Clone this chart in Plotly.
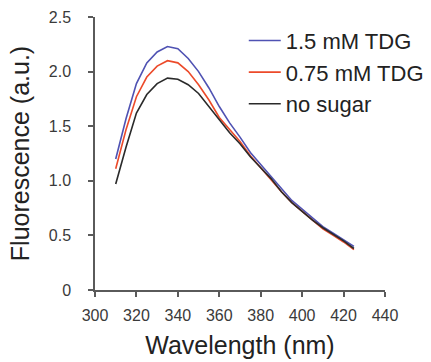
import plotly.graph_objects as go

wavelength = [310, 315, 320, 325, 330, 335, 340, 345, 350, 355, 360, 365,
              370, 375, 380, 385, 390, 395, 400, 405, 410, 415, 420, 425]
tdg_15 = [1.20, 1.57, 1.89, 2.08, 2.18, 2.23, 2.21, 2.12, 2.00, 1.85, 1.68, 1.53,
          1.40, 1.26, 1.15, 1.04, 0.92, 0.82, 0.74, 0.66, 0.58, 0.52, 0.46, 0.40]
tdg_075 = [1.11, 1.47, 1.77, 1.95, 2.05, 2.10, 2.08, 2.00, 1.88, 1.74, 1.58, 1.47,
           1.36, 1.23, 1.12, 1.02, 0.90, 0.80, 0.72, 0.64, 0.56, 0.50, 0.44, 0.37]
no_sugar = [0.97, 1.31, 1.62, 1.79, 1.89, 1.94, 1.93, 1.88, 1.80, 1.68, 1.55, 1.44,
            1.34, 1.22, 1.12, 1.02, 0.90, 0.80, 0.72, 0.64, 0.57, 0.51, 0.45, 0.38]

series_names = ["1.5 mM TDG", "0.75 mM TDG", "no sugar"]
series_colors = ["#4f52b3", "#ec4a2a", "#2a2a2a"]

x_ticks = [300, 320, 340, 360, 380, 400, 420, 440]
y_ticks = [0, 0.5, 1.0, 1.5, 2.0, 2.5]
y_ticktext = ["0", "0.5", "1.0", "1.5", "2.0", "2.5"]

FONT = "Liberation Sans, Arial, sans-serif"

fig = go.Figure()
for name, ys, col in zip(series_names, [tdg_15, tdg_075, no_sugar], series_colors):
    fig.add_trace(go.Scatter(x=wavelength, y=ys, mode="lines", name=name,
                             line=dict(color=col, width=1.6)))

axis_common = dict(showline=True, linecolor="#5a5a5a", linewidth=1.5,
                   ticks="outside", ticklen=5, tickcolor="#5a5a5a", tickwidth=1.5,
                   showgrid=False, zeroline=False,
                   tickfont=dict(family=FONT, size=16, color="#3a3a3a"))

fig.update_layout(
    width=431, height=362,
    margin=dict(l=95, r=46, t=17, b=72, autoexpand=False),
    paper_bgcolor="white", plot_bgcolor="white",
    font=dict(family=FONT, color="#222"),
    xaxis=dict(range=[300, 440], tickvals=x_ticks, automargin=False,
               title=dict(text="Wavelength (nm)", font=dict(family=FONT, size=25, color="#222"), standoff=14),
               ticklabelstandoff=5,
               **axis_common),
    yaxis=dict(range=[0, 2.5], tickvals=y_ticks, ticktext=y_ticktext, automargin=False,
               title=dict(text="Fluorescence (a.u.)", font=dict(family=FONT, size=25, color="#222"), standoff=12),
               ticklabelstandoff=14,
               **axis_common),
    legend=dict(x=0.513, y=0.99, xanchor="left", yanchor="top",
                font=dict(family=FONT, size=22, color="#222"),
                bgcolor="rgba(0,0,0,0)", borderwidth=0, itemwidth=32,
                tracegroupgap=0),
    showlegend=True,
)

fig.write_html("out.html", config={"displayModeBar": False},
               post_script="document.body.style.margin='0px';")
